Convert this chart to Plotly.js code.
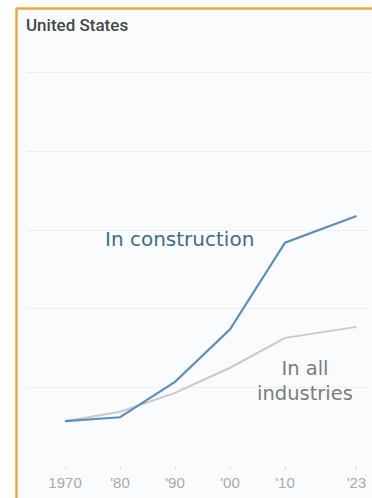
<!DOCTYPE html>
<html>
<head>
<meta charset="utf-8">
<script src="https://cdn.plot.ly/plotly-3.0.1.min.js"></script>
<style>html,body{margin:0;padding:0;background:#fff;overflow:hidden;}#chart{width:372px;height:498px;}</style>
</head>
<body>
<div id="chart"></div>
<script>
// Data
const years = [1970, 1980, 1990, 2000, 2010, 2023];
const construction = [5.7, 6.2, 10.7, 17.4, 28.4, 31.8];
const allIndustries = [5.7, 6.9, 9.3, 12.5, 16.3, 17.7];
const tickLabels = ['1970', "'80", "'90", "'00", "'10", "'23"];
const gridValues = [0, 10, 20, 30, 40, 50];

const traces = [
  {x: years, y: allIndustries, type: 'scatter', mode: 'lines',
   line: {color: '#c9c9c9', width: 2}, hoverinfo: 'skip'},
  {x: years, y: construction, type: 'scatter', mode: 'lines',
   line: {color: '#5d8fb8', width: 2.2}, hoverinfo: 'skip'}
];

const frameLeft = -0.0276, frameTop = 1.079, frameRight = 1.0058, frameBottom = -0.0755;

const layout = {
  width: 372, height: 498,
  margin: {l: 26, r: 2, t: 42, b: 32, pad: 0},
  paper_bgcolor: '#ffffff',
  plot_bgcolor: 'rgba(0,0,0,0)',
  showlegend: false,
  title: {
    text: 'United States',
    font: {family: 'Roboto, sans-serif', size: 17, weight: 500, color: '#474747'},
    x: 26/372, xref: 'container', xanchor: 'left',
    y: 1 - 25/498, yref: 'container', yanchor: 'middle'
  },
  xaxis: {
    range: [1962.9, 2025.45],
    tickvals: years, ticktext: tickLabels,
    ticks: 'outside', ticklen: 3, tickcolor: '#dcdcdc', tickwidth: 1,
    showgrid: false, zeroline: false, showline: false,
    tickfont: {family: 'Liberation Sans, Arial, sans-serif', size: 15, color: '#aaaaaa'}
  },
  yaxis: {
    range: [0, 53.94],
    tickvals: gridValues, showticklabels: false,
    showgrid: true, gridcolor: '#eceef1', gridwidth: 1,
    zeroline: false, showline: false, ticks: ''
  },
  shapes: [
    {type: 'rect', xref: 'paper', yref: 'paper', layer: 'below',
     x0: frameLeft, x1: frameRight, y0: frameBottom, y1: frameTop,
     fillcolor: '#f9fbfc', line: {width: 0}},
    {type: 'line', xref: 'paper', yref: 'paper', layer: 'below',
     x0: frameLeft, x1: frameRight, y0: frameTop, y1: frameTop,
     line: {color: '#f0a83c', width: 2.5}},
    {type: 'line', xref: 'paper', yref: 'paper', layer: 'below',
     x0: frameLeft, x1: frameLeft, y0: frameBottom, y1: frameTop,
     line: {color: '#f0a83c', width: 2.5}}
  ],
  annotations: [
    {x: 1990.9, y: 28.9, xref: 'x', yref: 'y', text: 'In construction', showarrow: false,
     font: {family: 'DejaVu Sans, sans-serif', size: 20, color: '#3f6c8e'}, xanchor: 'center', yanchor: 'middle'},
    {x: 2013.6, y: 10.8, xref: 'x', yref: 'y', text: 'In all<br>industries', showarrow: false,
     font: {family: 'DejaVu Sans, sans-serif', size: 19.5, color: '#7c7c7c'}, xanchor: 'center', yanchor: 'middle', align: 'center'}
  ]
};

Plotly.newPlot('chart', traces, layout, {displayModeBar: false, staticPlot: true});
</script>
</body>
</html>
